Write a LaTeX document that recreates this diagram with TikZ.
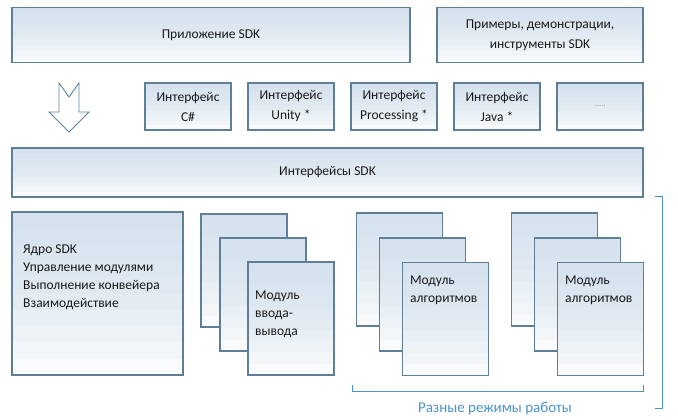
\documentclass[tikz,border=0pt]{standalone}
\usepackage{fontspec}
\setmainfont{Carlito}
\usetikzlibrary{positioning, calc}
\definecolor{boxline}{HTML}{5F7F96}
\definecolor{boxtop}{HTML}{C4D7E8}
\definecolor{brace}{HTML}{4A93CC}
\definecolor{txt}{HTML}{1A1A1A}

% pale band that fades from the top edge of each box down to white
\tikzset{
    blk/.style={draw=boxline, line width=1.1pt, fill=white, inner sep=0, text=txt, align=center, font=\fontsize{13.5}{20}\selectfont,
        path picture={\foreach \k in {1,...,10} \fill[boxtop, opacity=0.1] (path picture bounding box.north west) rectangle ($(path picture bounding box.north east)!\k/10!(path picture bounding box.south east)$);}},
    ifbox/.style={blk, minimum width=86pt, minimum height=47pt},
    page/.style={blk, minimum width=86pt, minimum height=113pt},
    lbl/.style={text=txt, align=left, anchor=west, inner sep=0, font=\fontsize{13.5}{18}\selectfont}
}

\begin{document}
\begin{tikzpicture}[x=1pt, y=-1pt]
                \useasboundingbox (0, 0) rectangle (678, 420);

                % top row
                \node[blk, minimum width=398pt, minimum height=55pt] (app) at (211, 35) {Приложение SDK};
                \node[blk, minimum width=206pt, minimum height=55pt] (demo) at (540, 35) {Примеры, демонстрации,\\ инструменты SDK};

                % hollow arrow
                \draw[draw=boxline!80!brace, line width=0.9pt, fill=white] (59, 83) -- (69, 97) -- (79, 83) -- (79, 112) -- (89, 112) -- (69, 132) -- (49, 112) -- (59, 112) -- cycle;

                % interfaces
                \node[ifbox] (ifcs) at (188, 106.5) {Интерфейс\\ C\#};
                \node[ifbox] (ifunity) at (291, 106.5) {Интерфейс\\ Unity *};
                \node[ifbox] (ifproc) at (394, 106.5) {Интерфейс\\ Processing *};
                \node[ifbox] (ifjava) at (497, 106.5) {Интерфейс\\ Java *};
                \node[ifbox, font=\scriptsize, text=gray] (ifmore) at (600, 106.5) {......};

                \node[blk, minimum width=631pt, minimum height=49pt] (sdk) at (327.5, 172.5) {Интерфейсы SDK};

                % core
                \node[blk, minimum width=171pt, minimum height=163pt] (core) at (97.5, 293.5) {};
                \node[lbl] (coretext) at (23, 277.5) {Ядро SDK\\ Управление модулями\\ Выполнение конвейера\\ Взаимодействие};

                % io module stack
                \node[page] (ioa) at (244, 270.5) {};
                \node[page] (iob) at (263, 294.5) {};
                \node[page] (ioc) at (291, 318.5) {};
                \node[lbl] (iotext) at (255, 314) {Модуль\\ ввода-\\ вывода};

                % algorithm stacks
                \node[page] (alga) at (399.5, 269.5) {};
                \node[page] (algb) at (422.5, 294.5) {};
                \node[page] (algc) at (445.5, 319) {};
                \node[lbl] (algtext) at (410, 290) {Модуль\\ алгоритмов};

                \node[page] (algd) at (554.5, 269.5) {};
                \node[page] (alge) at (577.5, 294.5) {};
                \node[page] (algf) at (600.5, 319) {};
                \node[lbl] (algtextb) at (565, 290) {Модуль\\ алгоритмов};

                % brackets
                \coordinate (bl) at (352, 385);
                \coordinate (br) at (643, 385);
                \draw[brace, line width=1pt] (bl) -- ++(0, 6) -| (br);
                \node[text=brace, font=\fontsize{15}{17}\selectfont] (modes) at (495, 409) {Разные режимы работы};

                \coordinate (rt) at (655, 196);
                \coordinate (rb) at (655, 408);
                \draw[brace, line width=1pt] (rt) -- ++(7, 0) |- (rb);
            \end{tikzpicture}
\end{document}
